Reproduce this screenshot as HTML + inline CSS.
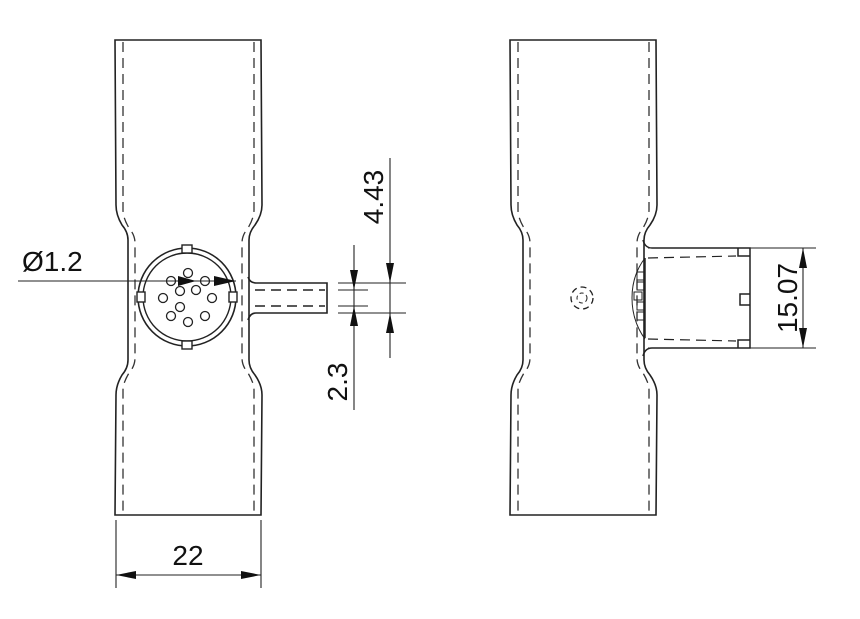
<!DOCTYPE html>
<html><head><style>html,body{margin:0;padding:0;background:#fff}svg{display:block}</style></head>
<body>
<svg width="860" height="619" viewBox="0 0 860 619" xmlns="http://www.w3.org/2000/svg" font-family="Liberation Sans, sans-serif">
<defs>
<g id="body">
 <path d="M0,0 L146,0 L147,165 Q147,175 140,185 Q134,192 134,200 L134,320 Q134,328 140,335 Q147,345 147,355 L146,475 L0,475 L1,355 Q1,345 7,335 Q13,328 13,320 L13,200 Q13,192 7,185 Q1,175 1,165 Z" fill="none" stroke="#222" stroke-width="1.6"/>
 <path d="M8,2 L8,170 Q8,178 14,188 Q20,195 20,203 L20,318 Q20,326 14,333 Q8,343 8,350 L8,473 M139,2 L139,170 Q139,178 133,188 Q127,195 127,203 L127,318 Q127,326 133,333 Q139,343 139,350 L139,473" fill="none" stroke="#333" stroke-width="1.3" stroke-dasharray="10,6"/>
</g>
</defs>
<g stroke="#222" fill="none" stroke-width="1.4">
<use href="#body" x="115" y="40"/>
<use href="#body" x="510" y="40"/>
<circle cx="187" cy="297" r="49" stroke-width="1.6"/>
<circle cx="187" cy="297" r="44"/>
<rect x="182" y="245" width="10" height="8" fill="#fff"/>
<rect x="182" y="341" width="10" height="8" fill="#fff"/>
<rect x="137" y="292" width="8" height="10" fill="#fff"/>
<rect x="229" y="292" width="8" height="10" fill="#fff"/>
<g stroke-width="1.3">
<circle cx="188" cy="273" r="4.5"/><circle cx="171" cy="281" r="4.5"/><circle cx="205" cy="281" r="4.5"/>
<circle cx="180" cy="291" r="4.5"/><circle cx="196" cy="290" r="4.5"/><circle cx="163" cy="298" r="4.5"/><circle cx="212" cy="298" r="4.5"/>
<circle cx="180" cy="307" r="4.5"/><circle cx="171" cy="316" r="4.5"/><circle cx="205" cy="316" r="4.5"/><circle cx="188" cy="322" r="4.5"/>
</g>
<path d="M248,277 Q250,283 256,283 L327,283 L327,313 L256,313 Q250,313 248,320" stroke-width="1.6"/>
<path d="M255,290 L325,290 M255,306 L325,306" stroke-dasharray="10,6"/>
<g stroke-width="1.1">
<path d="M338,283 L406,283 M338,313 L406,313 M338,290 L368,290 M338,306 L368,306"/>
<path d="M354,245 L354,410 M390,158 L390,358"/>
<path d="M18,281 L236,281"/>
<path d="M116,520 L116,588 M261,520 L261,588 M116,575 L261,575"/>
<path d="M648,248 L816,248 M648,348 L816,348 M803,248 L803,348"/>
</g>
</g>
<g fill="#111">
<polygon points="354,290 350,270 358,270"/><polygon points="354,306 350,326 358,326"/>
<polygon points="390,283 386,263 394,263"/><polygon points="390,313 386,333 394,333"/>
<polygon points="178,276 178,286 196,281"/><polygon points="236,281 214,276 214,286"/>
<polygon points="116,575 136,571 136,579"/><polygon points="261,575 241,571 241,579"/>
<polygon points="803,248 799,268 807,268"/><polygon points="803,348 799,328 807,328"/>
</g>
<g stroke="#222" fill="none" stroke-width="1.5">
<path d="M643,240 Q645,248 652,248 L750,248 L750,348 L652,348 Q645,348 643,356"/>
<path d="M738,248 L738,256 L750,256 M738,348 L738,340 L750,340 M750,294 L740,294 L740,305 L750,305"/>
<path d="M645,258 L645,338"/>
<path d="M648,258 L736,256 M648,339 L736,341" stroke-dasharray="10,6" stroke-width="1.2"/>
<path d="M645,258 Q632,275 632,298 Q632,321 645,339" stroke-width="1"/>
<path d="M637,272 h8 v8 h-8z M637,282 h8 v8 h-8z M634,292 h8 v8 h-8z M637,302 h8 v8 h-8z M637,312 h8 v8 h-8z" stroke-width="1"/>
<circle cx="582" cy="298" r="11" stroke-dasharray="6,4" stroke-width="1.3"/>
<circle cx="582" cy="298" r="5" stroke-dasharray="4,3" stroke-width="1"/>
</g>
<g fill="#111" font-size="28">
<text x="22" y="271">Ø1.2</text>
<text x="188" y="565" text-anchor="middle">22</text>
<text transform="translate(347,382) rotate(-90)" text-anchor="middle">2.3</text>
<text transform="translate(383,197) rotate(-90)" text-anchor="middle">4.43</text>
<text transform="translate(797,298) rotate(-90)" text-anchor="middle">15.07</text>
</g>
</svg>
</body></html>
